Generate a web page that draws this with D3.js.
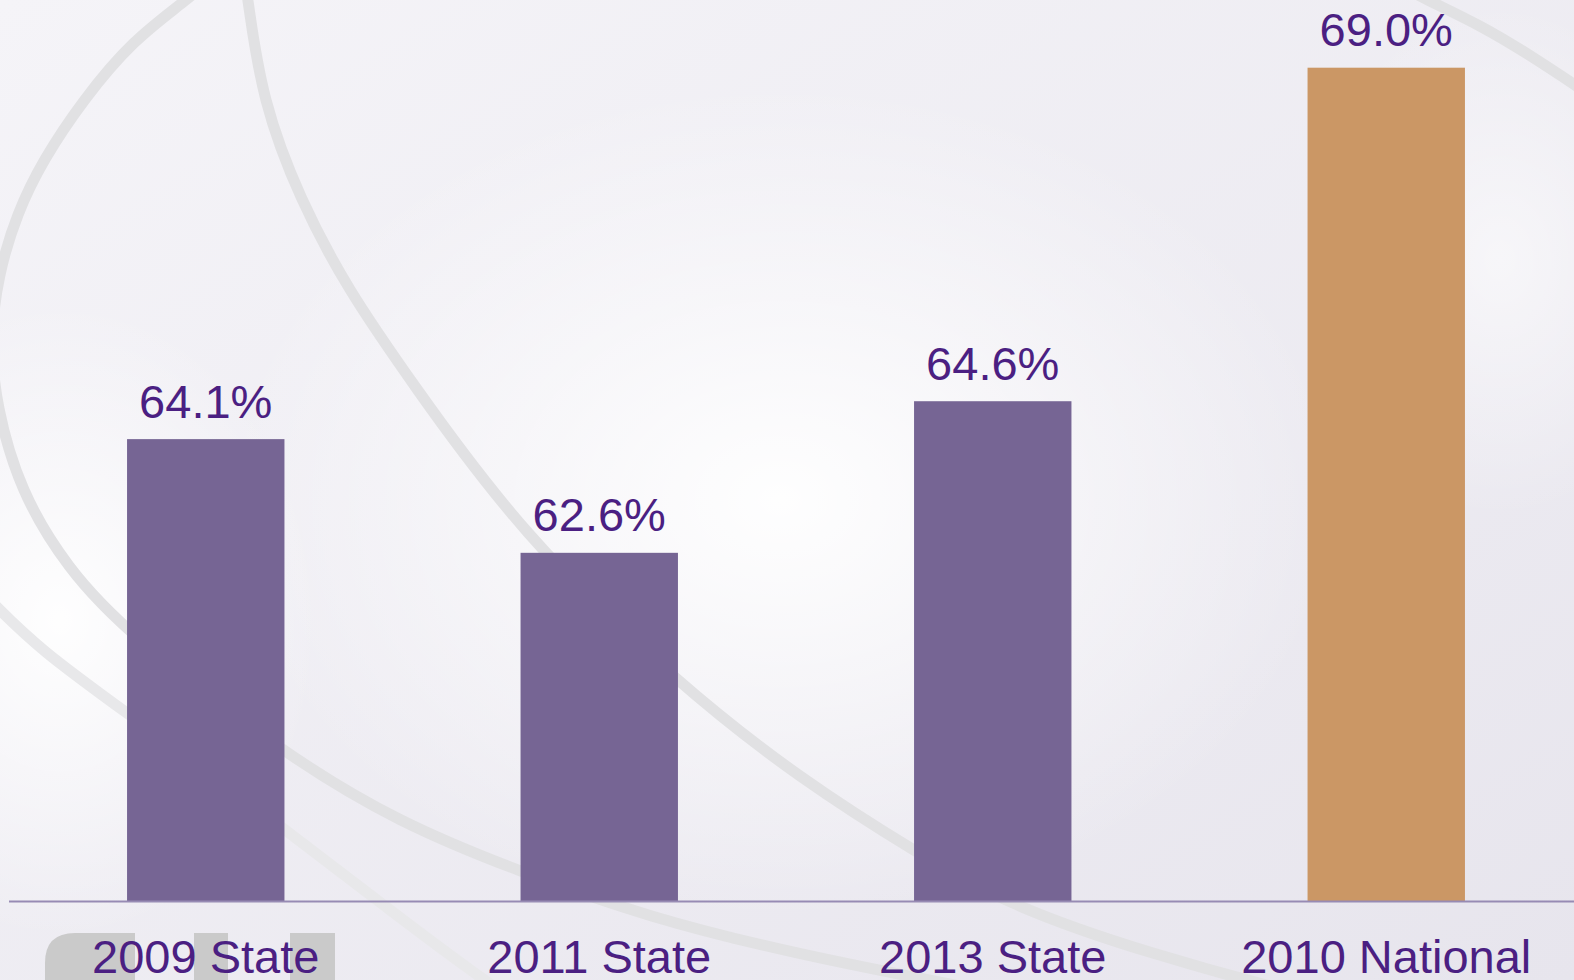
<!DOCTYPE html>
<meta charset="utf-8">
<style>
body { margin: 0; overflow: hidden; }
text { font-family: "Liberation Sans", Arial, sans-serif; }
</style>
<body>
<script src="https://d3js.org/d3.v7.min.js"></script>
<script>

// Chart data
const categories = ['2009 State', '2011 State', '2013 State', '2010 National']
const values = [64.1, 62.6, 64.6, 69.0]
const barColors = ['#766594', '#766594', '#766594', '#cb9765']

const width = 1574
const height = 980

const svg = d3.select('body')
  .append('svg')
  .attr('width', width)
  .attr('height', height)

// Background: soft lavender gradient with white highlights
const defs = svg.append('defs')
const lg = defs.append('linearGradient').attr('id', 'bg')
  .attr('x1', 0).attr('y1', 0).attr('x2', 1).attr('y2', 1)
lg.append('stop').attr('offset', 0).attr('stop-color', '#f5f4f8')
lg.append('stop').attr('offset', 1).attr('stop-color', '#e7e5ed')

const rg = defs.append('radialGradient').attr('id', 'glow')
rg.append('stop').attr('offset', 0).attr('stop-color', '#ffffff').attr('stop-opacity', 0.95)
rg.append('stop').attr('offset', 1).attr('stop-color', '#ffffff').attr('stop-opacity', 0)

svg.append('rect')
  .attr('width', width)
  .attr('height', height)
  .attr('fill', 'url(#bg)')

svg.append('ellipse').attr('cx', 780).attr('cy', 500).attr('rx', 560).attr('ry', 420).attr('fill', 'url(#glow)')
svg.append('ellipse').attr('cx', 60).attr('cy', 620).attr('rx', 260).attr('ry', 320).attr('fill', 'url(#glow)')
svg.append('ellipse').attr('cx', 1500).attr('cy', 260).attr('rx', 200).attr('ry', 260).attr('fill', 'url(#glow)').attr('opacity', 0.6)

// swoosh arcs of the slide template
const swoosh = d3.line().curve(d3.curveBasis)
const arcs = [
  { c: '#e1e1e3', p: [[215, -25], [187, 0], [133, 40], [83, 100], [43, 160], [17, 213], [-2, 275], [-10, 340], [-4, 405], [20, 491], [67, 568], [127, 633], [285, 755], [400, 823], [515, 870], [650, 918], [800, 955], [980, 990], [1060, 1005]] },
  { c: '#e8e8ea', p: [[-10, 600], [40, 650], [127, 713], [260, 810], [400, 918], [470, 970], [520, 1005]] },
  { c: '#e1e1e3', p: [[244, -25], [248, 0], [262, 100], [300, 200], [348, 290], [410, 380], [520, 533], [680, 686], [802, 780], [917, 853], [1008, 905], [1146, 953], [1320, 1000], [1400, 1015]] },
  { c: '#e1e1e3', p: [[1380, -25], [1427, 0], [1480, 25], [1530, 55], [1590, 95]] }
]
svg.append('g')
  .selectAll('path')
  .data(arcs)
  .join('path')
  .attr('d', d => swoosh(d.p))
  .attr('fill', 'none')
  .attr('stroke', d => d.c)
  .attr('stroke-width', 11)

// grey logo fragment at the bottom left
const logo = svg.append('g').attr('fill', '#cacaca')
logo.append('path').attr('d', 'M45,990 V963 Q45,933 75,933 H135 V990 Z')
logo.append('rect').attr('x', 194).attr('y', 933).attr('width', 34).attr('height', 60)
logo.append('rect').attr('x', 290).attr('y', 933).attr('width', 45).attr('height', 60)

// Scales
const x = d3.scaleBand()
  .domain(categories)
  .range([9, 1583])
  .paddingInner(0.6)
  .paddingOuter(0.3)

const y = d3.scaleLinear()
  .domain([58, 70])
  .range([901.5, -8.1])

// Bars
svg.append('g')
  .selectAll('rect')
  .data(values)
  .join('rect')
  .attr('x', (d, i) => x(categories[i]))
  .attr('y', d => y(d))
  .attr('width', x.bandwidth())
  .attr('height', d => y(58) - y(d))
  .attr('fill', (d, i) => barColors[i])

// Value labels
svg.append('g')
  .selectAll('text')
  .data(values)
  .join('text')
  .attr('x', (d, i) => x(categories[i]) + x.bandwidth() / 2)
  .attr('y', d => y(d) - 21.5)
  .attr('text-anchor', 'middle')
  .attr('font-size', 47)
  .attr('fill', '#4b1f82')
  .text(d => d.toFixed(1) + '%')

// Category axis
const xAxis = svg.append('g')
  .attr('transform', `translate(0,${y(58)})`)
  .call(d3.axisBottom(x).tickSize(0).tickPadding(38))
xAxis.select('.domain')
  .attr('d', `M9,0H${width}`)
  .attr('stroke', '#978bb4')
  .attr('stroke-width', 2)
xAxis.selectAll('text')
  .attr('font-size', 47)
  .attr('font-family', '"Liberation Sans", Arial, sans-serif')
  .attr('fill', '#4b1f82')
  .attr('dy', '0.71em')

</script>
</body>
</html>
